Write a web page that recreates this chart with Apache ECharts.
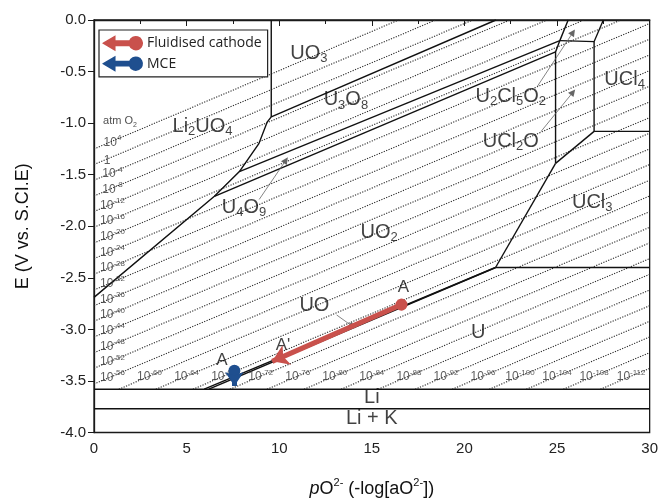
<!DOCTYPE html>
<html><head><meta charset="utf-8">
<script src="https://cdn.jsdelivr.net/npm/echarts@6/dist/echarts.min.js"></script>
<style>html,body{margin:0;padding:0;background:#fff}#c{width:661px;height:503px}</style>
</head><body><div id="c"></div>
<script>
// ---- O2 isobars (atm O2): exponent, start point, end point (pO2-, E)
const isobarExp = [4,0,-4,-8,-12,-16,-20,-24,-28,-32,-36,-40,-44,-48,-52,-56,-60,-64,-68,-72,-76,-80,-84,-88,-92,-96,-100,-104,-108,-112];
const isobarStart = [[0,-1.25],[0,-1.402],[0,-1.554],[0,-1.706],[0,-1.858],[0,-2.01],[0,-2.162],[0,-2.314],[0,-2.466],[0,-2.618],[0,-2.77],[0,-2.922],[0,-3.074],[0,-3.226],[0,-3.378],[0,-3.53],[1.34,-3.58],[3.34,-3.58],[5.34,-3.58],[7.34,-3.58],[9.34,-3.58],[11.34,-3.58],[13.34,-3.58],[15.34,-3.58],[17.34,-3.58],[19.34,-3.58],[21.34,-3.58],[23.34,-3.58],[25.34,-3.58],[27.34,-3.58]];
const isobarEnd = [[16.45,0],[18.45,0],[20.45,0],[22.45,0],[24.45,0],[26.45,0],[28.45,0],[30,-0.034],[30,-0.186],[30,-0.338],[30,-0.49],[30,-0.642],[30,-0.794],[30,-0.946],[30,-1.098],[30,-1.25],[30,-1.402],[30,-1.554],[30,-1.706],[30,-1.858],[30,-2.01],[30,-2.162],[30,-2.314],[30,-2.466],[30,-2.618],[30,-2.77],[30,-2.922],[30,-3.074],[30,-3.226],[30,-3.378]];
// isobar label anchor points
const isobarLabelPos = [[1.0,-1.189],[0.7,-1.364],[1.0,-1.493],[1.0,-1.645],[1.0,-1.797],[1.0,-1.949],[1.0,-2.101],[1.0,-2.253],[1.0,-2.405],[1.0,-2.557],[1.0,-2.709],[1.0,-2.861],[1.0,-3.013],[1.0,-3.165],[1.0,-3.317],[1.0,-3.469],[3,-3.46],[5,-3.46],[7,-3.46],[9,-3.46],[11,-3.46],[13,-3.46],[15,-3.46],[17,-3.46],[19,-3.46],[21,-3.46],[23,-3.46],[25,-3.46],[27,-3.46],[29,-3.46]];

// ---- phase boundaries (pO2-, E)
const bUO3_Li2UO4 = [[9.57,0],[9.57,-0.94]];
const bLi2UO4 = [[9.57,-0.94],[9.35,-0.99],[8.9,-1.2],[7.85,-1.47],[6.5,-1.71],[0,-2.69]];
const bUO3_U3O8 = [[9.57,-0.94],[21.7,0]];
const bU3O8_U4O9 = [[7.85,-1.47],[25.15,-0.2]];
const bU4O9_UO2 = [[6.5,-1.71],[24.92,-0.31]];
const bChlorideLeft = [[25.6,0],[25.15,-0.2],[24.92,-0.31],[24.92,-1.39]];
const bU2Cl5O2 = [[25.15,-0.2],[27.0,-0.21],[27.5,0]];
const bUCl2O_UCl4 = [[27.0,-0.21],[27.0,-1.08]];
const bUCl4_UCl3 = [[27.0,-1.08],[30,-1.08]];
const bUCl2O_UCl3 = [[27.0,-1.08],[24.92,-1.39]];
const bUO2_UCl3 = [[24.92,-1.39],[21.68,-2.40]];
const bUCl3_U = [[21.68,-2.40],[30,-2.40]];
const bUO2_UO = [[21.68,-2.40],[5.95,-3.58]];
const bUO_U = [[21.68,-2.40],[6.2,-3.58]];
const bLi = [[0,-3.58],[30,-3.58]];
const bLiK = [[0,-3.77],[30,-3.77]];
const boundaries = [bUO3_Li2UO4,bLi2UO4,bUO3_U3O8,bU3O8_U4O9,bU4O9_UO2,bChlorideLeft,bU2Cl5O2,bUCl2O_UCl4,bUCl4_UCl3,bUCl2O_UCl3,bUO2_UCl3,bUCl3_U,bUO2_UO,bUO_U,bLi,bLiK];

// ---- experimental paths
const fluidisedPath = [[16.6,-2.76],[9.62,-3.31]];
const mcePath = [[7.58,-3.40],[7.58,-3.55]];

// ---- pointer arrows for labels
const pointerArrows = [[[8.92,-1.74],[10.36,-1.36]],[[13.1,-2.86],[13.95,-2.97]],[[23.95,-0.64],[25.86,-0.12]],[[24.14,-1.08],[25.86,-0.70]]];

// ---- text annotations
const regionLabels = [
  {t:'{n|UO}{s|3}', p:[11.6,-0.32]},
  {t:'{n|U}{s|3}{n|O}{s|8}', p:[13.6,-0.775]},
  {t:'{n|Li}{s|2}{n|UO}{s|4}', p:[5.86,-1.03]},
  {t:'{n|U}{s|4}{n|O}{s|9}', p:[8.1,-1.82]},
  {t:'{n|UO}{s|2}', p:[15.4,-2.06]},
  {t:'{n|UO}', p:[11.9,-2.77]},
  {t:'{n|U}', p:[20.75,-3.03]},
  {t:'{n|U}{s|2}{n|Cl}{s|5}{n|O}{s|2}', p:[22.5,-0.74]},
  {t:'{n|UCl}{s|2}{n|O}', p:[22.5,-1.18]},
  {t:'{n|UCl}{s|4}', p:[28.65,-0.58]},
  {t:'{n|UCl}{s|3}', p:[26.9,-1.77]},
  {t:'{n|Li}', p:[15,-3.665]},
  {t:'{n|Li + K}', p:[15,-3.865]},
  {t:'{a|A}', p:[16.7,-2.59]},
  {t:"{a|A'}", p:[10.2,-3.15]},
  {t:'{a|A}', p:[6.9,-3.30]},
  {t:'{t|atm O}{ts|2}', p:[1.4,-0.98]}
];

const FONT = "'Liberation Sans', Arial, sans-serif";
const RED = '#c9514c', BLUE = '#1f4f8f';

const isobarLines = isobarStart.map((s,i)=>({coords:[s, isobarEnd[i]]}));
const isobarLabels = isobarExp.map((e,i)=>({
  value: isobarLabelPos[i],
  label: {formatter: e === 0 ? '{b|1}' : '{b|10}{p|' + e + '}'}
}));

const chart = echarts.init(document.getElementById('c'), null, {renderer:'canvas'});
chart.setOption({
  animation: false,
  backgroundColor: '#fff',
  grid: {left: 94, right: 9, top: 20, bottom: 70, show: true, borderColor: '#1a1a1a', borderWidth: 1.3, backgroundColor: 'transparent'},
  legend: {
    left: 99, top: 30, orient: 'vertical',
    backgroundColor: '#fff', borderColor: '#222', borderWidth: 1.2,
    padding: [6, 6, 6, 4], itemGap: 6, itemWidth: 38, itemHeight: 13,
    textStyle: {fontFamily: 'Open Sans', fontSize: 14, color: '#222'},
    data: [
      {name: 'Fluidised cathode', icon: 'path://M0,6.5L11,0L11,4.5L27,4.5A6.5,6.5,0,1,1,27,8.5L11,8.5L11,13Z', itemStyle:{color: RED}},
      {name: 'MCE', icon: 'path://M0,6.5L11,0L11,4.5L27,4.5A6.5,6.5,0,1,1,27,8.5L11,8.5L11,13Z', itemStyle:{color: BLUE}}
    ]
  },
  xAxis: {
    type: 'value', min: 0, max: 30, interval: 5,
    name: '{i|p}{n|O}{u|2-}{n| (-log[aO}{u|2-}{n|])}',
    nameLocation: 'middle', nameGap: 45,
    nameTextStyle: {rich: {
      i: {fontFamily: FONT, fontSize: 18, fontStyle: 'italic', color: '#111'},
      n: {fontFamily: FONT, fontSize: 18, color: '#111'},
      u: {fontFamily: FONT, fontSize: 11, color: '#111', padding: [0,0,12,0]}
    }},
    axisLine: {show: true, lineStyle: {color: '#1a1a1a', width: 1.3}},
    axisTick: {show: true, inside: false, length: 6, lineStyle: {color: '#1a1a1a'}},
    minorTick: {show: true, splitNumber: 2, length: 4, lineStyle: {color: '#1a1a1a'}},
    splitLine: {show: false},
    axisLabel: {fontFamily: FONT, fontSize: 15, color: '#222', margin: 9}
  },
  yAxis: {
    type: 'value', min: -4, max: 0, interval: 0.5,
    name: 'E (V vs. S.CI.E)', nameLocation: 'middle', nameGap: 62, nameRotate: 90,
    nameTextStyle: {fontFamily: FONT, fontSize: 18, color: '#111'},
    axisLine: {show: true, lineStyle: {color: '#1a1a1a', width: 1.3}},
    axisTick: {show: true, inside: false, length: 6, lineStyle: {color: '#1a1a1a'}},
    splitLine: {show: false},
    axisLabel: {fontFamily: FONT, fontSize: 15, color: '#222', margin: 8, formatter: v => v.toFixed(1)}
  },
  series: [
    {
      name: 'isobars', type: 'lines', coordinateSystem: 'cartesian2d', silent: true, z: 1,
      lineStyle: {color: '#2a2a2a', width: 1.1, type: [1.2, 1.4], opacity: 1},
      data: isobarLines
    },
    {
      name: 'boundaries', type: 'lines', coordinateSystem: 'cartesian2d', polyline: true, silent: true, z: 3,
      lineStyle: {color: '#111', width: 1.4, opacity: 1},
      data: boundaries.map(b => ({coords: b}))
    },
    {
      name: 'pointers', type: 'lines', coordinateSystem: 'cartesian2d', silent: true, z: 4,
      symbol: ['none', 'triangle'], symbolSize: 7,
      lineStyle: {color: '#666', width: 0.8, opacity: 1},
      itemStyle: {color: '#111'},
      data: pointerArrows.map(a => ({coords: a}))
    },
    {
      name: 'isobarLabels', type: 'scatter', silent: true, z: 5, symbolSize: 1,
      itemStyle: {color: 'rgba(0,0,0,0)'},
      label: {show: true, position: 'inside', color: '#333', rich: {
        b: {fontFamily: FONT, fontSize: 12, color: '#333'},
        p: {fontFamily: FONT, fontSize: 8, color: '#333', padding: [0,0,9,0]}
      }},
      data: isobarLabels
    },
    {
      name: 'regionLabels', type: 'scatter', silent: true, z: 6, symbolSize: 1,
      itemStyle: {color: 'rgba(0,0,0,0)'},
      label: {show: true, position: 'inside', rich: {
        n: {fontFamily: FONT, fontSize: 20, color: '#111'},
        s: {fontFamily: FONT, fontSize: 13, color: '#111', padding: [10,0,0,0]},
        a: {fontFamily: FONT, fontSize: 17, color: '#111'},
        t: {fontFamily: FONT, fontSize: 11, color: '#222'},
        ts: {fontFamily: FONT, fontSize: 7, color: '#222', padding: [7,0,0,0]}
      }},
      data: regionLabels.map(r => ({value: r.p, label: {formatter: r.t}}))
    },
    {
      name: 'Fluidised cathode', type: 'lines', coordinateSystem: 'cartesian2d', z: 8,
      symbol: ['circle', 'arrow'], symbolSize: [12, 16],
      lineStyle: {color: RED, width: 5, opacity: 1}, itemStyle: {color: RED},
      data: [{coords: fluidisedPath}]
    },
    {
      name: 'MCE', type: 'lines', coordinateSystem: 'cartesian2d', z: 8,
      symbol: ['circle', 'arrow'], symbolSize: [12, 14],
      lineStyle: {color: BLUE, width: 5, opacity: 1}, itemStyle: {color: BLUE},
      data: [{coords: mcePath}]
    }
  ]
});
</script></body></html>
